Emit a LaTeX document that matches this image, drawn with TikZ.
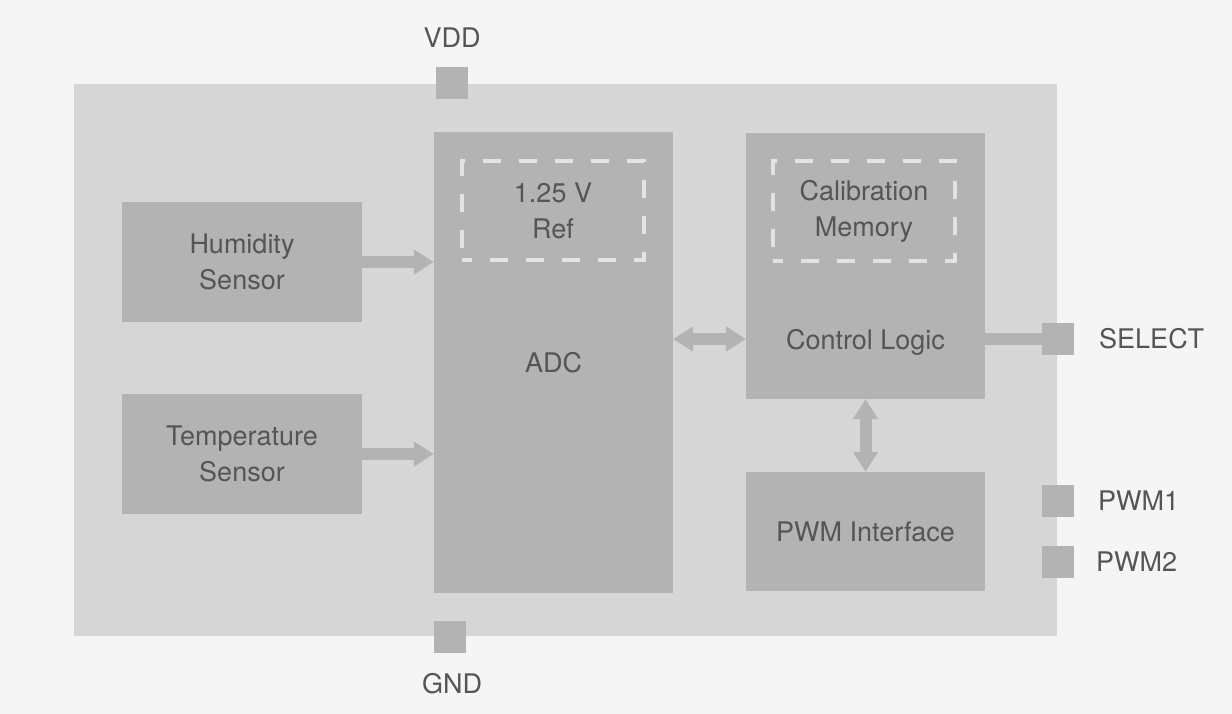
\documentclass[tikz,border=0pt]{standalone}
\usepackage{fontspec}
\setmainfont{TeX Gyre Heros}
\usetikzlibrary{arrows.meta,positioning}
\definecolor{pagebg}{HTML}{F5F5F5}
\definecolor{chipbg}{HTML}{D6D6D6}
\definecolor{blockbg}{HTML}{B3B3B3}
\definecolor{labeltxt}{HTML}{555555}
\definecolor{refdash}{HTML}{E3E3E3}
\tikzset{
  block/.style={fill=blockbg, inner sep=0pt, text=labeltxt, align=center},
  pad/.style={fill=blockbg, minimum size=32pt, inner sep=0pt},
  lbl/.style={text=labeltxt, inner sep=0pt},
  dashbox/.style={draw=refdash, line width=3.5pt, dash pattern=on 18pt off 18pt,
    dash phase=8pt, inner sep=0pt, align=center, text=labeltxt},
  bus/.style={draw=blockbg, line width=12pt},
  busone/.style={bus, -{Triangle[width=24pt,length=20pt]}},
  bustwo/.style={bus, {Triangle[width=24pt,length=20pt]}-{Triangle[width=24pt,length=20pt]}}
}

\begin{document}
\begin{tikzpicture}[x=1pt, y=-1pt, font=\fontsize{27}{36}\selectfont]

  \fill[pagebg] (0,0) rectangle (1232,714);

  % chip body
  \node[fill=chipbg, minimum width=983pt, minimum height=552pt, inner sep=0pt] (chip) at (565.5,360) {};

  \node[pad] (vdd) at (452,83) {};
  \node[pad] (gnd) at (450,637) {};
  \node[pad] (sel) at (1058,339) {};
  \node[pad] (pwma) at (1058,501) {};
  \node[pad] (pwmb) at (1058,562) {};

  \node[lbl] (vddlbl) at (452,38) {VDD};
  \node[lbl] (gndlbl) at (452,684) {GND};
  \node[lbl, anchor=west] (sellbl) at (1099,339) {SELECT};
  \node[lbl, anchor=west] (pwmalbl) at (1098,501) {PWM1};
  \node[lbl, anchor=west] (pwmblbl) at (1096,562) {PWM2};

  % blocks
  \node[block, minimum width=240pt, minimum height=120pt] (hum) at (242,262) {Humidity\\Sensor};
  \node[block, minimum width=240pt, minimum height=120pt] (temp) at (242,454) {Temperature\\Sensor};

  \node[block, minimum width=239pt, minimum height=461pt] (adc) at (553.5,362.5) {ADC};
  \node[dashbox, minimum width=182pt, minimum height=99pt] (vref) at (553,210.5) {1.25 V\\Ref};

  \node[block, minimum width=239pt, minimum height=266pt] (cal) at (865.5,266) {};
  \node[lbl, anchor=base] (ctrl) at (865.5,349) {Control Logic};
  \node[dashbox, minimum width=182pt, minimum height=100pt] (calmem) at (864,211) {Calibration\\Memory};

  \node[block, minimum width=239pt, minimum height=119pt] (pwm) at (865.5,531.5) {PWM Interface};

  % connectors
  \draw[busone] (hum.east) -- (hum.east -| adc.west);
  \draw[busone] (temp.east) -- (temp.east -| adc.west);
  \draw[bustwo] (adc.east |- sel) -- (cal.west |- sel);
  \draw[bustwo] (cal.south) -- (pwm.north);
  \draw[bus] (cal.east |- sel) -- (sel.west);

\end{tikzpicture}
\end{document}
